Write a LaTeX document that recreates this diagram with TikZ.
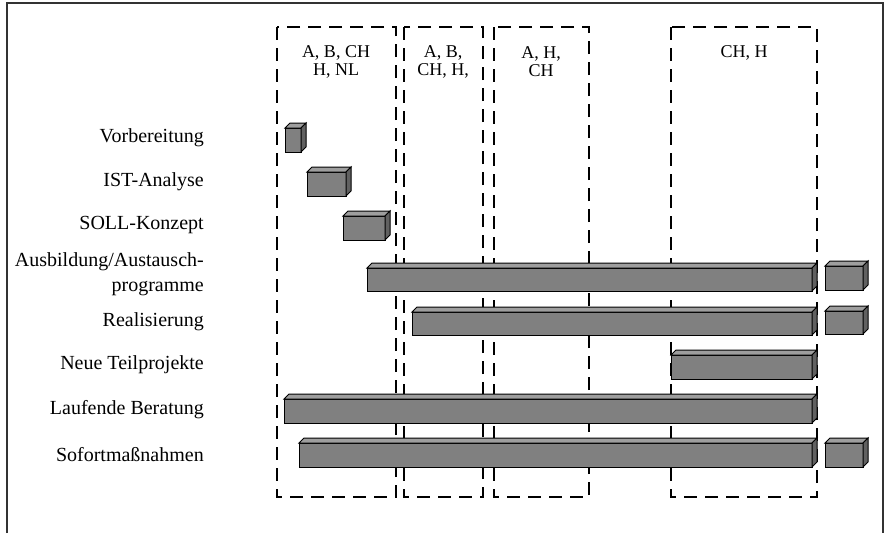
\documentclass[tikz,border=0pt]{standalone}
\usepackage{fontspec}
\setmainfont{Liberation Serif}
\tikzset{
  frameline/.style={line width=1.6pt, draw=black!80},
  groupbox/.style={draw=black, line width=2.6pt, dash pattern=on 13pt off 8pt},
  grouplbl/.style={font=\fontsize{18}{18}\selectfont, align=center, inner sep=0pt},
  lbl/.style={font=\fontsize{20}{25}\selectfont, anchor=east, align=right, inner sep=0pt},
  face/.style={draw=black, line width=1pt, fill=black!50},
  topface/.style={face, fill=black!38},
  sideface/.style={face, fill=black!62},
}
\newcommand\gbar[4]{%
  \draw[face] (#1,#2) rectangle (#3,#4);
  \draw[topface] (#1,#2) -- ({#1+5},{#2-5}) -- ({#3+5},{#2-5}) -- (#3,#2) -- cycle;
  \draw[sideface] (#3,#2) -- ({#3+5},{#2-5}) -- ({#3+5},{#4-5}) -- (#3,#4) -- cycle;}
\begin{document}
\begin{tikzpicture}[x=1pt,y=-1pt]
\useasboundingbox (0,0) rectangle (885,533);
\fill[white] (0,0) rectangle (885,533);
% frame
\draw[frameline] (7,533) -- (7,3) -- (883,3) -- (883,533);
% group boxes
\draw[groupbox] (277,27) rectangle (396,497);
\draw[groupbox] (404,27) rectangle (483,497);
\draw[groupbox] (494,27) rectangle (589,497);
\draw[groupbox] (671,27) rectangle (817,497);
\node[grouplbl] (g1) at (336,62) {A, B, CH\\H, NL};
\node[grouplbl] (g2) at (443,62) {A, B,\\CH, H,};
\node[grouplbl] (g3) at (541,62) {A, H,\\CH};
\node[grouplbl] (g4) at (744,53) {CH, H};
% labels
\node[lbl] (l1) at (204,138) {Vorbereitung};
\node[lbl] (l2) at (204,182) {IST-Analyse};
\node[lbl] (l3) at (204,225) {SOLL-Konzept};
\node[lbl] (l4) at (204,274.5) {Ausbildung/Austausch-\\programme};
\node[lbl] (l5) at (204,322) {Realisierung};
\node[lbl] (l6) at (204,365) {Neue Teilprojekte};
\node[lbl] (l7) at (204,410) {Laufende Beratung};
\node[lbl] (l8) at (204,455) {Sofortmaßnahmen};
% bars
\gbar{285}{128}{301}{152}
\gbar{307}{172}{346}{196}
\gbar{343}{216}{385}{240}
\gbar{367}{268}{812}{291}
\gbar{825}{266}{863}{290}
\gbar{412}{312}{812}{335}
\gbar{825}{311}{863}{334}
\gbar{671}{355}{812}{379}
\gbar{284}{399}{812}{423}
\gbar{299}{443}{812}{467}
\gbar{825}{443}{863}{467}
\end{tikzpicture}
\end{document}
